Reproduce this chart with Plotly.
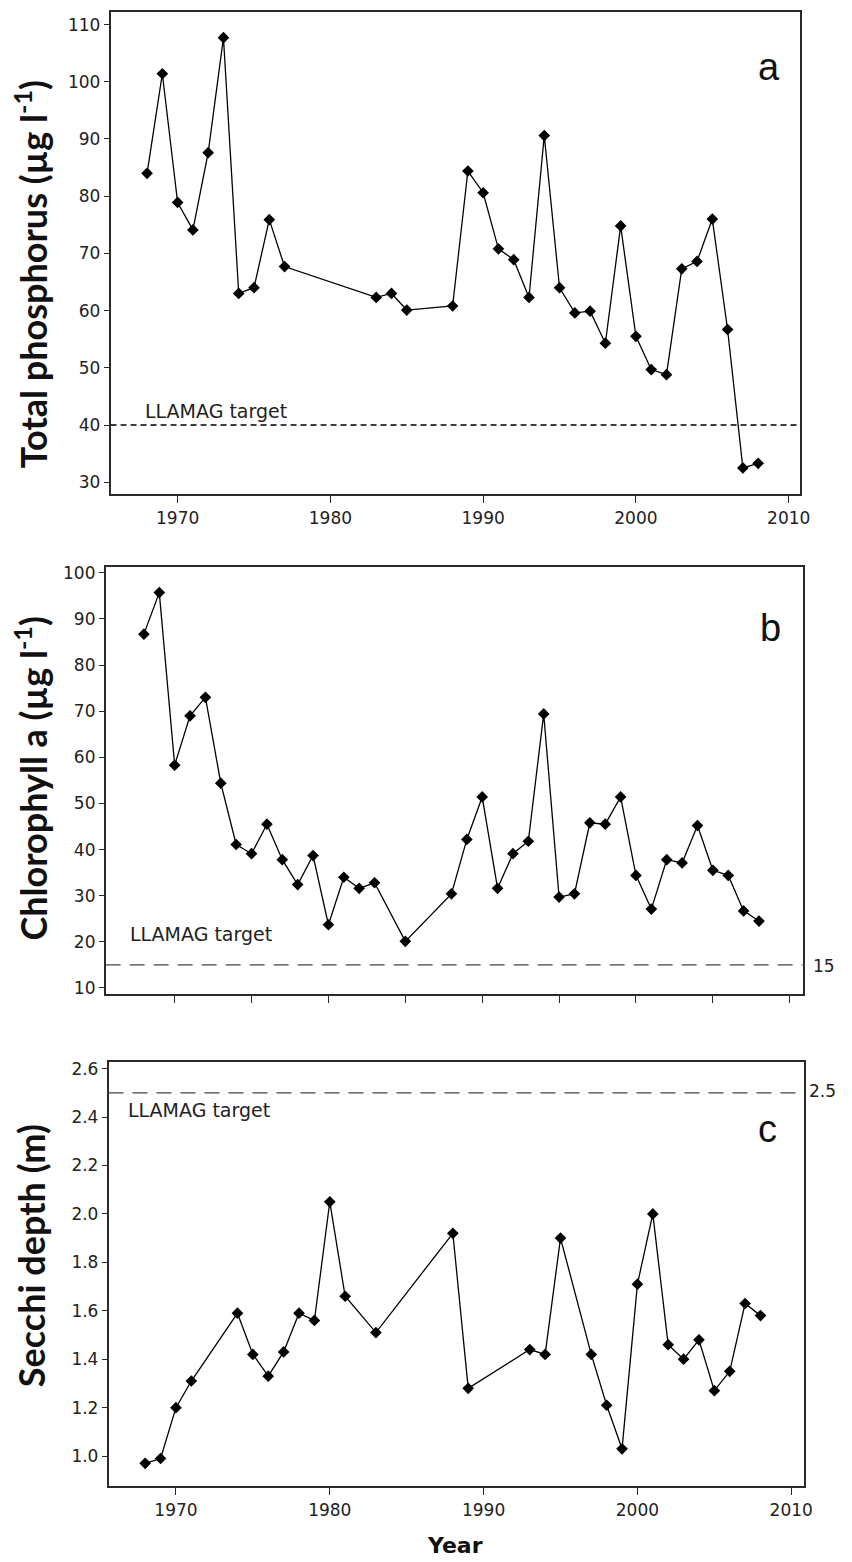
import plotly.graph_objects as go

W, H = 852, 1562

# ---------------- data ----------------
years_tp = [1968, 1969, 1970, 1971, 1972, 1973, 1974, 1975, 1976, 1977,
            1983, 1984, 1985, 1988, 1989, 1990, 1991, 1992, 1993, 1994,
            1995, 1996, 1997, 1998, 1999, 2000, 2001, 2002, 2003, 2004,
            2005, 2006, 2007, 2008]
tp = [84.0, 101.4, 78.9, 74.1, 87.6, 107.7, 63.0, 64.0, 75.9, 67.7,
      62.3, 63.0, 60.1, 60.8, 84.4, 80.6, 70.8, 68.9, 62.3, 90.6,
      64.0, 59.6, 59.9, 54.3, 74.8, 55.5, 49.7, 48.8, 67.3, 68.6,
      76.0, 56.7, 32.5, 33.3]

years_chl = [1968, 1969, 1970, 1971, 1972, 1973, 1974, 1975, 1976, 1977,
             1978, 1979, 1980, 1981, 1982, 1983, 1985, 1988, 1989, 1990,
             1991, 1992, 1993, 1994, 1995, 1996, 1997, 1998, 1999, 2000,
             2001, 2002, 2003, 2004, 2005, 2006, 2007, 2008]
chl = [86.7, 95.7, 58.3, 69.0, 73.0, 54.4, 41.1, 39.1, 45.5, 37.8,
       32.4, 38.7, 23.7, 34.0, 31.6, 32.8, 20.1, 30.4, 42.2, 51.4,
       31.6, 39.1, 41.8, 69.4, 29.7, 30.4, 45.8, 45.5, 51.4, 34.4,
       27.1, 37.8, 37.1, 45.2, 35.5, 34.4, 26.7, 24.5]

years_sd = [1968, 1969, 1970, 1971, 1974, 1975, 1976, 1977, 1978, 1979,
            1980, 1981, 1983, 1988, 1989, 1993, 1994, 1995, 1997, 1998,
            1999, 2000, 2001, 2002, 2003, 2004, 2005, 2006, 2007, 2008]
secchi = [0.97, 0.99, 1.20, 1.31, 1.59, 1.42, 1.33, 1.43, 1.59, 1.56,
          2.05, 1.66, 1.51, 1.92, 1.28, 1.44, 1.42, 1.90, 1.42, 1.21,
          1.03, 1.71, 2.00, 1.46, 1.40, 1.48, 1.27, 1.35, 1.63, 1.58]

target_tp = 40
target_chl = 15
target_sd = 2.5

tp_ticks = [30, 40, 50, 60, 70, 80, 90, 100, 110]
chl_ticks = [10, 20, 30, 40, 50, 60, 70, 80, 90, 100]
sd_ticks = [1.0, 1.2, 1.4, 1.6, 1.8, 2.0, 2.2, 2.4, 2.6]
year_ticks = [1970, 1980, 1990, 2000, 2010]
year_ticks_b = [1970, 1975, 1980, 1985, 1990, 1995, 2000, 2005, 2010]

# ---------------- helpers ----------------
def px_x(p):
    return p / W

def px_y(p):
    return 1 - p / H

AX = "#2a2a2a"
TICKFONT = dict(family="DejaVu Sans", size=17, color="#222")

fig = go.Figure()

line_style = dict(color="black", width=1.3)
marker_style = dict(symbol="diamond", size=9, color="black")

fig.add_trace(go.Scatter(x=years_tp, y=tp, mode="lines+markers", line=line_style,
                         marker=marker_style, xaxis="x", yaxis="y", showlegend=False))
fig.add_trace(go.Scatter(x=years_chl, y=chl, mode="lines+markers", line=line_style,
                         marker=marker_style, xaxis="x2", yaxis="y2", showlegend=False))
fig.add_trace(go.Scatter(x=years_sd, y=secchi, mode="lines+markers", line=line_style,
                         marker=marker_style, xaxis="x3", yaxis="y3", showlegend=False))

common_x = dict(showline=True, mirror=True, linecolor=AX, linewidth=1.5,
                ticks="outside", ticklen=7, tickwidth=1.2, tickcolor=AX,
                showgrid=False, zeroline=False, tickfont=TICKFONT, tickmode="array")
common_y = dict(showline=True, mirror=True, linecolor=AX, linewidth=1.5,
                ticks="outside", ticklen=5, tickwidth=1.2, tickcolor=AX,
                showgrid=False, zeroline=False, tickfont=TICKFONT, tickmode="array")

fig.update_layout(
    width=W, height=H,
    margin=dict(l=0, r=0, t=0, b=0),
    paper_bgcolor="white", plot_bgcolor="white",
    xaxis=dict(common_x, domain=[px_x(112), px_x(810)], range=[1965.61, 2010.71],
               tickvals=year_ticks, anchor="y"),
    yaxis=dict(common_y, domain=[px_y(493), px_y(8)], range=[27.86, 112.2],
               tickvals=tp_ticks, anchor="x"),
    xaxis2=dict(common_x, domain=[px_x(107), px_x(813)], range=[1965.51, 2010.83],
                tickvals=year_ticks_b, showticklabels=False, anchor="y2"),
    yaxis2=dict(common_y, domain=[px_y(995), px_y(566)], range=[8.71, 101.23],
                tickvals=chl_ticks, anchor="x2"),
    xaxis3=dict(common_x, domain=[px_x(110), px_x(815)], range=[1965.62, 2010.86],
                tickvals=year_ticks, anchor="y3"),
    yaxis3=dict(common_y, domain=[px_y(1490), px_y(1063)], range=[0.875, 2.629],
                tickvals=sd_ticks, tickformat=".1f", anchor="x3"),
)

# target lines
fig.add_shape(type="line", xref="x domain", yref="y", x0=0, x1=1, y0=target_tp, y1=target_tp,
              line=dict(color="black", width=1.3, dash="6px,4px"))
fig.add_shape(type="line", xref="x2 domain", yref="y2", x0=0, x1=1, y0=target_chl, y1=target_chl,
              line=dict(color="#444", width=1.3, dash="15px,9px"))
fig.add_shape(type="line", xref="x3 domain", yref="y3", x0=0, x1=1, y0=target_sd, y1=target_sd,
              line=dict(color="#444", width=1.3, dash="15px,9px"))

ann = []
def add_text(text, x, y, size, family, xanchor="center", yanchor="middle", angle=0,
             color="#222", weight="normal"):
    ann.append(dict(text=text, x=px_x(x), y=px_y(y), xref="paper", yref="paper",
                    xanchor=xanchor, yanchor=yanchor, showarrow=False, textangle=angle,
                    font=dict(family=family, size=size, color=color, weight=weight)))

# LLAMAG target labels
add_text("LLAMAG target", 145, 409, 19, "DejaVu Sans", xanchor="left")
add_text("LLAMAG target", 130, 935, 19, "DejaVu Sans", xanchor="left")
add_text("LLAMAG target", 128, 1112, 19, "DejaVu Sans", xanchor="left")

# right-side target values
add_text("15", 822, 967, 17, "DejaVu Sans", xanchor="left")
add_text("2.5", 818, 1093, 17, "DejaVu Sans", xanchor="left")

# panel letters
add_text("a", 779, 63, 38, "Liberation Sans", color="#111")
add_text("b", 781, 627, 38, "Liberation Sans", color="#111")
add_text("c", 778, 1131, 38, "Liberation Sans", color="#111")

# axis titles
add_text("Total phosphorus (µg l<sup>-1</sup>)", 31, 272, 36, "Lato", angle=-90,
         color="#111", weight="bold")
add_text("Chlorophyll a (µg l<sup>-1</sup>)", 31, 779, 36, "Lato", angle=-90,
         color="#111", weight="bold")
add_text("Secchi depth (m)", 31, 1258, 36, "Lato", angle=-90,
         color="#111", weight="bold")
add_text("Year", 461, 1549, 22, "DejaVu Sans", color="#111", weight="bold")

fig.update_layout(annotations=ann)

fig.write_html("out.html")
